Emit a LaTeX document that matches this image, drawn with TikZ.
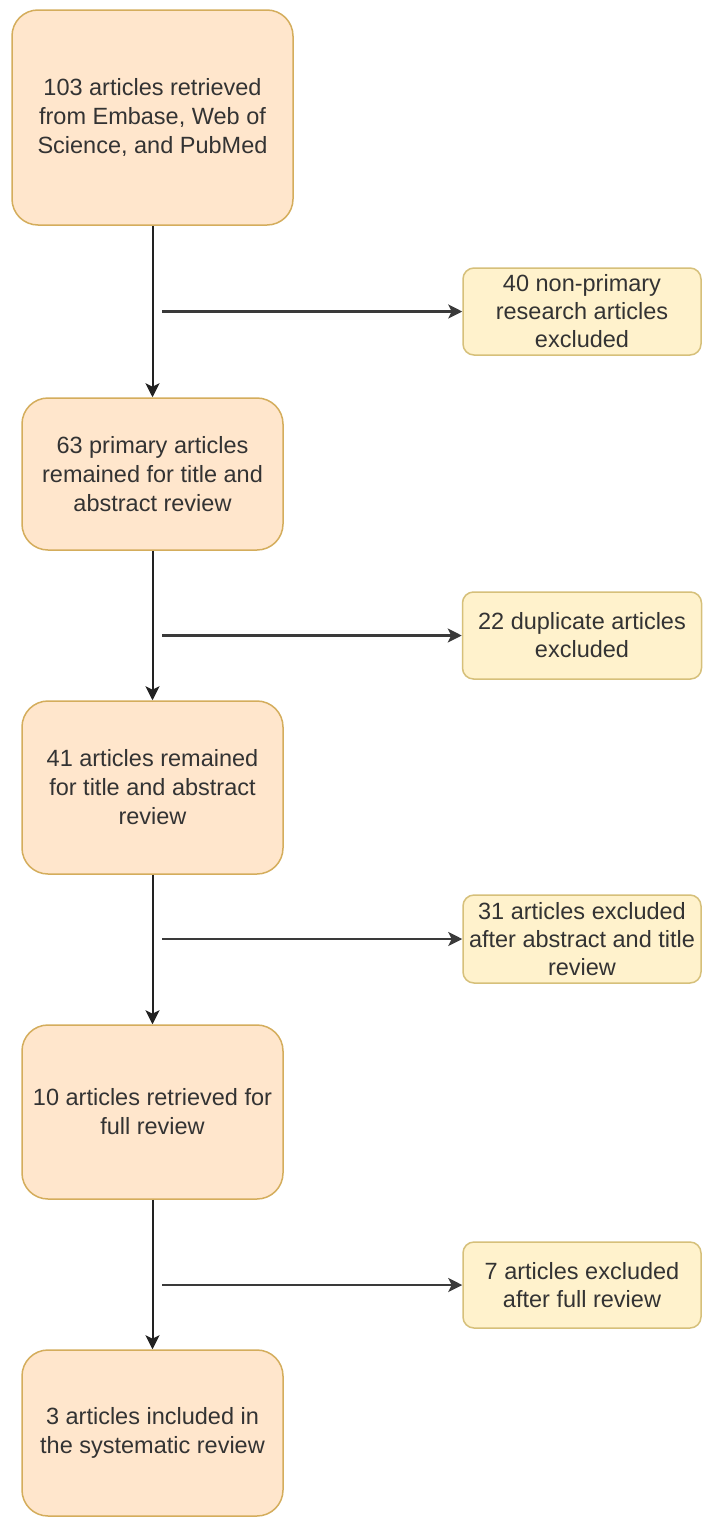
\documentclass[tikz,border=0pt]{standalone}
\usepackage{fontspec}
\setmainfont{Liberation Sans}
\usetikzlibrary{arrows.meta}
\definecolor{txt}{HTML}{333333}
\definecolor{mainfill}{HTML}{FFE6CC}
\definecolor{maindraw}{HTML}{D4AD5C}
\definecolor{sidefill}{HTML}{FFF2CC}
\definecolor{sidedraw}{HTML}{D6C07A}
\definecolor{vline}{HTML}{222222}
\definecolor{hline}{HTML}{3A3A3A}
\tikzset{
  mainbox/.style={draw=maindraw, fill=mainfill, line width=1.5pt, rounded corners=26pt,
    inner sep=0pt, align=center, text=txt, font=\fontsize{23.5}{29}\selectfont},
  sidebox/.style={draw=sidedraw, fill=sidefill, line width=1.5pt, rounded corners=11pt,
    inner sep=0pt, align=center, text=txt, font=\fontsize{23.5}{28}\selectfont},
  downarrow/.style={draw=vline, line width=2pt, -{Stealth[length=14pt,width=14pt,inset=3.5pt]}},
  sidearrow/.style={draw=hline, line width=2.6pt, -{Stealth[length=14pt,width=14pt,inset=3.5pt]}}
}
\begin{document}
\begin{tikzpicture}[x=1pt,y=-1pt]
\useasboundingbox[fill=white] (0,0) rectangle (703,1518);

\node[mainbox, minimum width=281pt, minimum height=215pt] (m1) at (152.5,117.5)
  {103 articles retrieved\\from Embase, Web of\\Science, and PubMed};
\node[mainbox, minimum width=261pt, minimum height=152pt] (m2) at (152.5,474)
  {63 primary articles\\remained for title and\\abstract review};
\node[mainbox, minimum width=261pt, minimum height=173pt] (m3) at (152.5,787.5)
  {41 articles remained\\for title and abstract\\review};
\node[mainbox, minimum width=261pt, minimum height=174pt] (m4) at (152.5,1112)
  {10 articles retrieved for\\full review};
\node[mainbox, minimum width=261pt, minimum height=166pt] (m5) at (152.5,1433)
  {3 articles included in\\the systematic review};

\node[sidebox, minimum width=238pt, minimum height=87pt] (x1) at (582,311.5)
  {40 non-primary\\research articles\\excluded};
\node[sidebox, minimum width=239pt, minimum height=87pt] (x2) at (582,635.5)
  {22 duplicate articles\\excluded};
\node[sidebox, minimum width=238pt, minimum height=88pt] (x3) at (582,939)
  {31 articles excluded\\after abstract and title\\review};
\node[sidebox, minimum width=238pt, minimum height=86pt] (x4) at (582,1285)
  {7 articles excluded\\after full review};

\coordinate (s1) at (162,311.5);
\coordinate (s2) at (162,635.5);
\coordinate (s3) at (162,939);
\coordinate (s4) at (162,1285);

\draw[downarrow] (m1) -- (m2);
\draw[downarrow] (m2) -- (m3);
\draw[downarrow] (m3) -- (m4);
\draw[downarrow] (m4) -- (m5);

\draw[sidearrow] (s1) -- (x1.west);
\draw[sidearrow] (s2) -- (x2.west);
\draw[sidearrow] (s3) -- (x3.west);
\draw[sidearrow] (s4) -- (x4.west);
\end{tikzpicture}
\end{document}
